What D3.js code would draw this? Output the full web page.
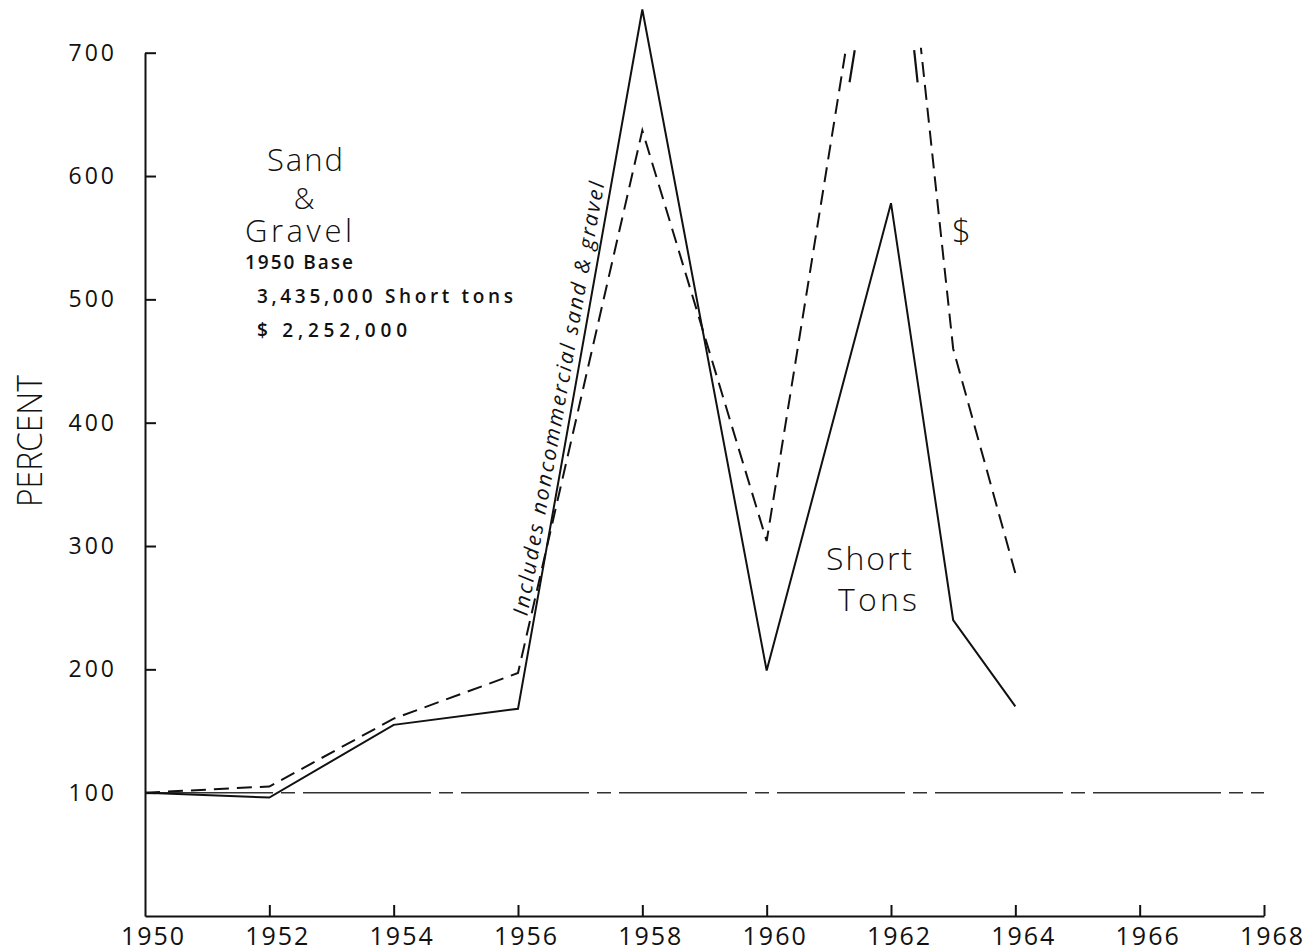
<!DOCTYPE html>
<html>
<head>
<meta charset="utf-8">
<script src="https://cdn.jsdelivr.net/npm/d3@7"></script>
<style>
  html, body { margin: 0; padding: 0; background: #fff; overflow: hidden; }
  svg { display: block; }
  text { fill: #111; }
</style>
</head>
<body>
<svg id="chart" width="1309" height="952"></svg>
<script>
// ---- data (percent of 1950 base) ----
const years = [1950, 1952, 1954, 1956, 1958, 1960, 1962, 1963, 1964];
const shortTonsPct = [100, 96, 155, 168, 735, 199, 578, 240, 170];
const dollarsPct = [100, 105, 160, 197, 637, 304, 930, 460, 278];
const yTickValues = [100, 200, 300, 400, 500, 600, 700];
const xTickValues = [1950, 1952, 1954, 1956, 1958, 1960, 1962, 1964, 1966, 1968];
const baseValue = 100;
const chartTop = 700;      // values above this are off the chart (broken line)
const titleLines = ["Sand", "&", "Gravel"];
const baseLines = ["1950 Base", "3,435,000 Short tons", "$ 2,252,000"];
const noteText = "Includes  noncommercial  sand  &  gravel";

const svg = d3.select("#chart");
const x = d3.scaleLinear().domain([1950, 1968]).range([145, 1264]);
const y = d3.scaleLinear().domain([0, 700]).range([916, 52.7]);

const labelFont = "'Open Sans', 'DejaVu Sans', sans-serif";

// ---- axes ----
const yAxis = d3.axisLeft(y).tickValues(yTickValues).tickSizeInner(-11).tickSizeOuter(0).tickPadding(28)
  .tickFormat(d3.format("d"));
const gy = svg.append("g").attr("transform", `translate(${x(1950)},0)`).call(yAxis);
const xAxis = d3.axisBottom(x).tickValues(xTickValues).tickSizeInner(-11).tickSizeOuter(0).tickPadding(11)
  .tickFormat(d3.format("d"));
const gx = svg.append("g").attr("transform", `translate(0,${y(0)})`).call(xAxis);

[gx, gy].forEach(g => {
  g.select(".domain").attr("stroke", "#111").attr("stroke-width", 2);
  g.selectAll(".tick line").attr("stroke", "#111").attr("stroke-width", 2);
  g.selectAll(".tick text").attr("font-family", labelFont).attr("fill", "#111");
});
gy.selectAll(".tick text").attr("font-size", 23).attr("letter-spacing", 3);
gx.selectAll(".tick text").attr("font-size", 25).attr("letter-spacing", 2).attr("dx", 8);
gx.selectAll(".tick").filter(d => d === 1950).select("line").remove();

// y axis title
svg.append("text")
  .attr("transform", "translate(42,441) rotate(-90)")
  .attr("text-anchor", "middle")
  .attr("font-family", labelFont).attr("font-weight", 300).attr("font-size", 34)
  .attr("textLength", 132).attr("lengthAdjust", "spacingAndGlyphs")
  .text("PERCENT");

// ---- 100% base line ----
svg.append("line")
  .attr("x1", x(1950)).attr("x2", x(1968))
  .attr("y1", y(baseValue)).attr("y2", y(baseValue))
  .attr("stroke", "#333").attr("stroke-width", 1.5)
  .attr("stroke-dasharray", "128,8,14,8");

// ---- series ----
const line = d3.line().x(d => x(d[0])).y(d => y(d[1]));
const tonsData = years.map((yr, i) => [yr, shortTonsPct[i]]);
const dollarData = years.map((yr, i) => [yr, dollarsPct[i]]);

svg.append("path").datum(tonsData)
  .attr("d", line).attr("fill", "none")
  .attr("stroke", "#111").attr("stroke-width", 2).attr("stroke-linejoin", "miter");

// clip the dollar line where it runs off the top of the chart
const defs = svg.append("defs");
defs.append("clipPath").attr("id", "clipTop")
  .append("rect")
  .attr("x", 0).attr("y", y(chartTop + 4))
  .attr("width", 1309).attr("height", 952 - y(chartTop + 4));

svg.append("path").datum(dollarData)
  .attr("d", line).attr("fill", "none")
  .attr("clip-path", "url(#clipTop)")
  .attr("stroke", "#111").attr("stroke-width", 2)
  .attr("stroke-dasharray", "15,8");

// break marks where the dollar line leaves / re-enters the chart
function crossAt(p0, p1, v) {
  const t = (v - p0[1]) / (p1[1] - p0[1]);
  return p0[0] + t * (p1[0] - p0[0]);
}
const iPeak = dollarsPct.indexOf(d3.max(dollarsPct));
const segs = [
  { a: dollarData[iPeak - 1], b: dollarData[iPeak], off: 9 },
  { a: dollarData[iPeak + 1], b: dollarData[iPeak], off: -7 }
];
segs.forEach(s => {
  const v1 = chartTop + 2, v2 = chartTop - 24;
  svg.append("line")
    .attr("x1", x(crossAt(s.a, s.b, v1)) + s.off).attr("y1", y(v1))
    .attr("x2", x(crossAt(s.a, s.b, v2)) + s.off).attr("y2", y(v2))
    .attr("stroke", "#111").attr("stroke-width", 2.2);
});

// ---- annotations ----
const titleFont = "'Open Sans', 'DejaVu Sans', sans-serif";
svg.append("text").attr("x", 306).attr("y", 171).attr("text-anchor", "middle")
  .attr("font-family", titleFont).attr("font-weight", 300).attr("font-size", 31).attr("letter-spacing", 2)
  .text(titleLines[0]);
svg.append("text").attr("x", 304).attr("y", 209).attr("text-anchor", "middle")
  .attr("font-family", titleFont).attr("font-weight", 300).attr("font-size", 29)
  .text(titleLines[1]);
svg.append("text").attr("x", 245).attr("y", 242)
  .attr("font-family", titleFont).attr("font-weight", 300).attr("font-size", 31)
  .attr("textLength", 107).attr("lengthAdjust", "spacing")
  .text(titleLines[2]);

const subFont = "'Open Sans', 'DejaVu Sans', sans-serif";
svg.append("text").attr("x", 245).attr("y", 269)
  .attr("font-family", subFont).attr("font-weight", 600).attr("font-size", 19)
  .attr("textLength", 108).attr("lengthAdjust", "spacing")
  .text(baseLines[0]);
svg.append("text").attr("x", 257).attr("y", 303)
  .attr("font-family", subFont).attr("font-weight", 600).attr("font-size", 19)
  .attr("textLength", 256).attr("lengthAdjust", "spacing")
  .text(baseLines[1]);
svg.append("text").attr("x", 257).attr("y", 337)
  .attr("font-family", subFont).attr("font-weight", 600).attr("font-size", 19)
  .attr("textLength", 150).attr("lengthAdjust", "spacing")
  .text(baseLines[2]);

svg.append("text").attr("x", 826).attr("y", 570)
  .attr("font-family", titleFont).attr("font-weight", 300).attr("font-size", 32)
  .attr("textLength", 86).attr("lengthAdjust", "spacing")
  .text("Short");
svg.append("text").attr("x", 838).attr("y", 611)
  .attr("font-family", titleFont).attr("font-weight", 300).attr("font-size", 32)
  .attr("textLength", 79).attr("lengthAdjust", "spacing")
  .text("Tons");
svg.append("text").attr("x", 952).attr("y", 243)
  .attr("font-family", titleFont).attr("font-weight", 300).attr("font-size", 33)
  .text("$");

// rotated note along the 1956-1958 rise of the short-tons line
(function () {
  const p0 = tonsData[3], p1 = tonsData[4];
  const X0 = x(p0[0]), Y0 = y(p0[1]), X1 = x(p1[0]), Y1 = y(p1[1]);
  const ang = Math.atan2(Y1 - Y0, X1 - X0);
  const t = 0.44;
  const cx = X0 + t * (X1 - X0), cy = Y0 + t * (Y1 - Y0);
  const off = 7;
  const ux = Math.sin(ang), uy = -Math.cos(ang);
  svg.append("text")
    .attr("transform", `translate(${cx + off * ux},${cy + off * uy}) rotate(${ang * 180 / Math.PI})`)
    .attr("text-anchor", "middle")
    .attr("font-family", labelFont).attr("font-style", "italic").attr("font-size", 21)
    .attr("textLength", 440).attr("lengthAdjust", "spacing")
    .text(noteText);
})();
</script>
</body>
</html>
